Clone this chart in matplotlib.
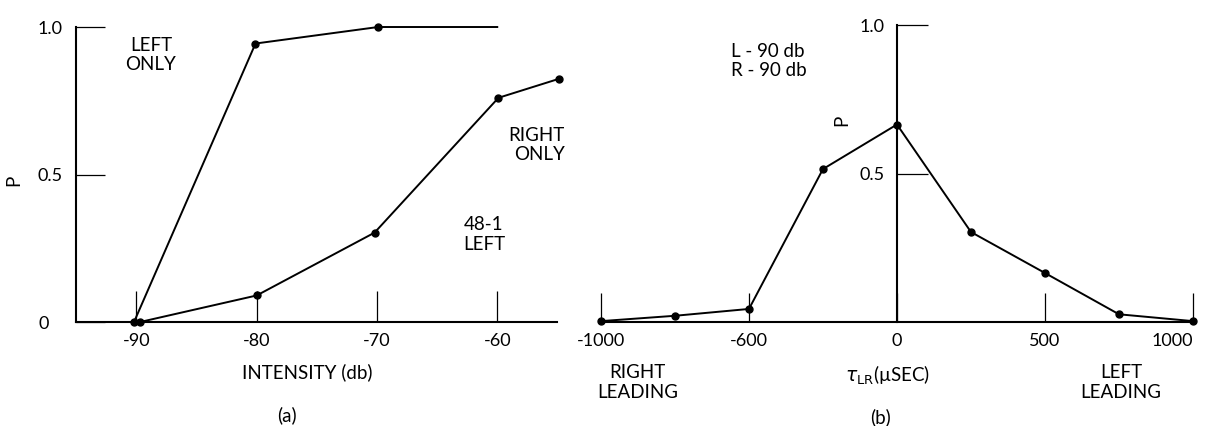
import matplotlib.pyplot as plt

# (a) P 随强度变化
intensity_ticks = [-90, -80, -70, -60]
intensity_labels = ["-90", "-80", "-70", "-60"]
left_only_db = [-90.2, -80.1, -69.9, -60.0]
left_only_p = [0.0, 0.944, 1.0, 1.0]
right_only_db = [-89.7, -80.0, -70.2, -59.9, -54.9]
right_only_p = [0.0, 0.09, 0.303, 0.76, 0.824]

# (b) P 随时间差 tau_LR 变化
tau_us = [-1000, -750, -500, -250, 0, 250, 500, 750, 1000]
tau_p = [0.003, 0.021, 0.044, 0.515, 0.665, 0.303, 0.165, 0.026, 0.003]
tau_ticks = [-1000, -500, 0, 500, 1000]
tau_labels = ["-1000", "-600", "0", "500", "1000"]  # 原图第二个刻度就印作 -600

p_ticks_a = [0, 0.5, 1.0]
p_labels_a = ["0", "0.5", "1.0"]
p_ticks_b = [0.5, 1.0]
p_labels_b = ["0.5", "1.0"]

plt.rcParams["font.family"] = ["Lato", "DejaVu Sans"]
FS = 13.5
TICK_FS = 13
LS = 1.2
LINE = dict(color="black", linewidth=1.4, clip_on=False)

fig = plt.figure(figsize=(12.07, 4.26), dpi=100)
ax_a = fig.add_axes([0.0632, 0.2441, 0.3986, 0.6925])
ax_b = fig.add_axes([0.4979, 0.2441, 0.4905, 0.6972])

for ax in (ax_a, ax_b):
    ax.set_facecolor("none")
    for side in ("top", "right"):
        ax.spines[side].set_visible(False)
    for side in ("left", "bottom"):
        ax.spines[side].set_linewidth(1.5)
    ax.tick_params(axis="both", direction="in", width=0.9, labelsize=TICK_FS, colors="black")

# ---- (a) ----
ax_a.plot(left_only_db, left_only_p, marker="o", markersize=5, markevery=[0, 1, 2], **LINE)
ax_a.plot(right_only_db, right_only_p, marker="o", markersize=5, **LINE)
ax_a.set_xlim(-95, -55)
ax_a.set_ylim(0, 1.0)
ax_a.set_xticks(intensity_ticks, intensity_labels)
ax_a.set_yticks(p_ticks_a, p_labels_a)
ax_a.tick_params(axis="x", length=22, pad=8)
ax_a.tick_params(axis="y", length=21, pad=10)
ax_a.yaxis.get_major_ticks()[0].set_pad(20)  # "0" 在原图里离轴更远

ax_a.text(-100.2, 0.48, "P", rotation=90, ha="center", va="center", fontsize=FS)
ax_a.text(-88.8, 0.905, "LEFT\nONLY", ha="center", va="center", fontsize=FS, linespacing=LS)
ax_a.text(-54.4, 0.6, "RIGHT\nONLY", ha="right", va="center", fontsize=FS, linespacing=LS)
ax_a.text(-61.1, 0.297, "48-1\nLEFT", ha="center", va="center", fontsize=FS, linespacing=LS)
ax_a.text(-75.8, -0.17, "INTENSITY (db)", ha="center", va="center", fontsize=FS)
ax_a.text(-77.5, -0.315, "(a)", ha="center", va="center", fontsize=FS)

# ---- (b) ----
ax_b.plot(tau_us, tau_p, marker="o", markersize=5, **LINE)
ax_b.set_xlim(-1000, 1000)
ax_b.set_ylim(0, 1.0)
ax_b.spines["left"].set_position(("data", 0))
ax_b.set_xticks(tau_ticks, tau_labels)
ax_b.set_yticks(p_ticks_b, p_labels_b)
ax_b.tick_params(axis="x", length=21, pad=8)
ax_b.tick_params(axis="y", length=22, pad=9)
ax_b.get_xticklabels()[-1].set_horizontalalignment("right")

ax_b.text(-186, 0.68, "P", rotation=90, ha="center", va="center", fontsize=FS)
ax_b.text(-561, 0.879, "L - 90 db\nR - 90 db", ha="left", va="center", fontsize=FS, linespacing=LS)
ax_b.text(-876, -0.205, "RIGHT\nLEADING", ha="center", va="center", fontsize=FS, linespacing=LS)
ax_b.text(-30, -0.178, r"$\tau_{\rm LR}$(µSEC)", ha="center", va="center", fontsize=FS)
ax_b.text(757, -0.205, "LEFT\nLEADING", ha="center", va="center", fontsize=FS, linespacing=LS)
ax_b.text(-57, -0.32, "(b)", ha="center", va="center", fontsize=FS)

fig.savefig("out.png", dpi=100)
